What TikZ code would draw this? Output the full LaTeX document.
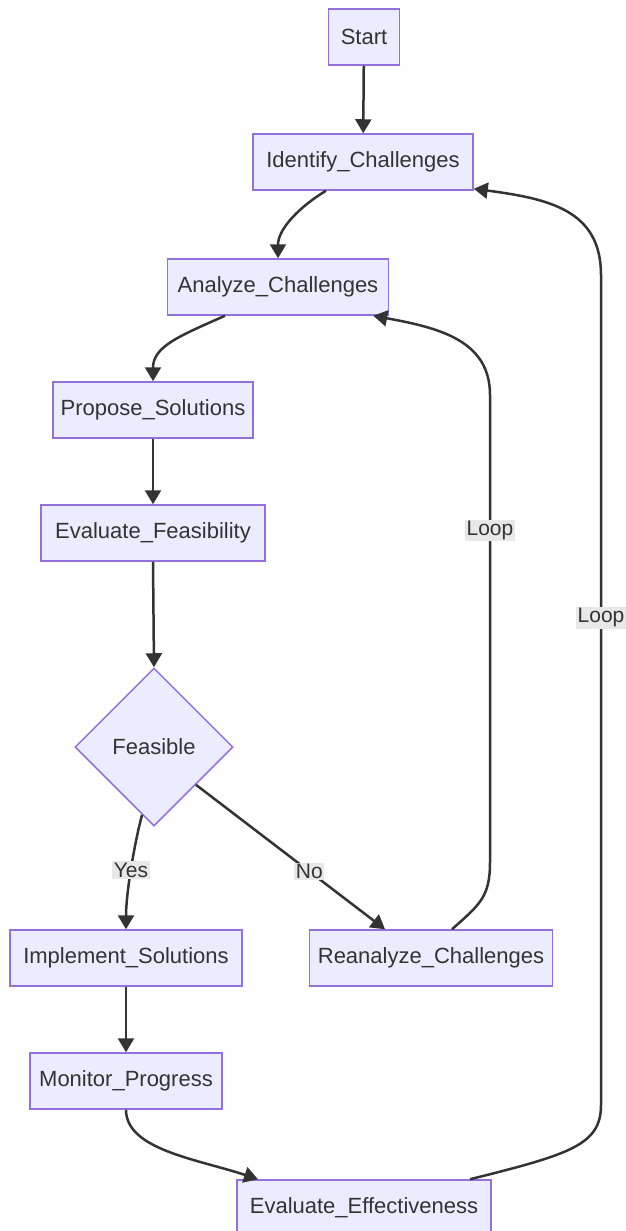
\documentclass[tikz,border=0pt]{standalone}
\usepackage{fontspec}
\setmainfont{Liberation Sans}
\usetikzlibrary{shapes.geometric,arrows.meta}
\definecolor{nodefill}{HTML}{ECECFF}
\definecolor{nodedraw}{HTML}{9370DB}
\definecolor{edgecol}{HTML}{333333}
\definecolor{lblfill}{HTML}{E8E8E8}
\begin{document}
\begin{tikzpicture}[x=1pt,y=-1pt,
  box/.style={rectangle, draw=nodedraw, fill=nodefill, line width=1.5pt, text=edgecol,
    font=\fontsize{22}{26}\selectfont, inner sep=0pt, minimum height=56pt},
  decide/.style={diamond, draw=nodedraw, fill=nodefill, line width=1.5pt, text=edgecol,
    font=\fontsize{22}{26}\selectfont, inner sep=0pt, minimum width=158pt, minimum height=158pt},
  edge/.style={draw=edgecol, line width=2.5pt, -{Triangle[length=14pt,width=16pt]}},
  lbl/.style={fill=lblfill, text=edgecol, font=\fontsize{21}{24}\selectfont, inner sep=1.5pt}]
\useasboundingbox (0,0) rectangle (625,1231);

\node[box, minimum width=71pt]  (start) at (364,37)  {Start};
\node[box, minimum width=220pt] (idc)   at (363,162) {Identify\_Challenges};
\node[box, minimum width=221pt] (anc)   at (278,287) {Analyze\_Challenges};
\node[box, minimum width=200pt] (prop)  at (153,410) {Propose\_Solutions};
\node[box, minimum width=224pt] (evf)   at (153,533) {Evaluate\_Feasibility};
\node[decide] (fea) at (154,747) {Feasible};
\node[box, minimum width=232pt] (impl)  at (126,958) {Implement\_Solutions};
\node[box, minimum width=243pt] (rea)   at (431,958) {Reanalyze\_Challenges};
\node[box, minimum width=192pt] (mon)   at (126,1081) {Monitor\_Progress};
\node[box, minimum width=254pt] (eve)   at (364,1208) {Evaluate\_Effectiveness};

\coordinate (la) at (490,862);
\coordinate (lb) at (490,395);
\coordinate (lc) at (601,1105);
\coordinate (ld) at (601,275);

\draw[edge] (start) -- (idc);
\draw[edge] ([xshift=-37pt]idc.south) .. controls +(-25,15) and +(0,-30) .. (anc.north);
\draw[edge] ([xshift=-53pt]anc.south) .. controls +(-45,20) and +(0,-35) .. (prop.north);
\draw[edge] (prop) -- (evf);
\draw[edge] (evf.south) -- (fea.north);
\draw[edge] (fea.-100) .. controls +(-8,30) and +(0,-35) .. node[lbl]{Yes} (impl.north);
\draw[edge] (fea.-42) -- node[lbl, pos=0.6]{No} ([xshift=-46pt]rea.north);
\draw[edge] ([xshift=21pt]rea.north) .. controls +(28,-25) and +(0,35) .. (la)
  -- node[lbl, pos=0.71]{Loop} (lb)
  .. controls +(0,-55) and +(65,12) .. ([xshift=-16pt]anc.south east);
\draw[edge] (impl) -- (mon);
\draw[edge] (mon.south) .. controls +(0,40) and +(-60,-20) .. ([xshift=-106pt]eve.north);
\draw[edge] ([xshift=106pt]eve.north) .. controls +(100,-25) and +(0,40) .. (lc)
  -- node[lbl, pos=0.587]{Loop} (ld)
  .. controls +(0,-65) and +(75,10) .. ([yshift=2pt]idc.south east);
\end{tikzpicture}
\end{document}
